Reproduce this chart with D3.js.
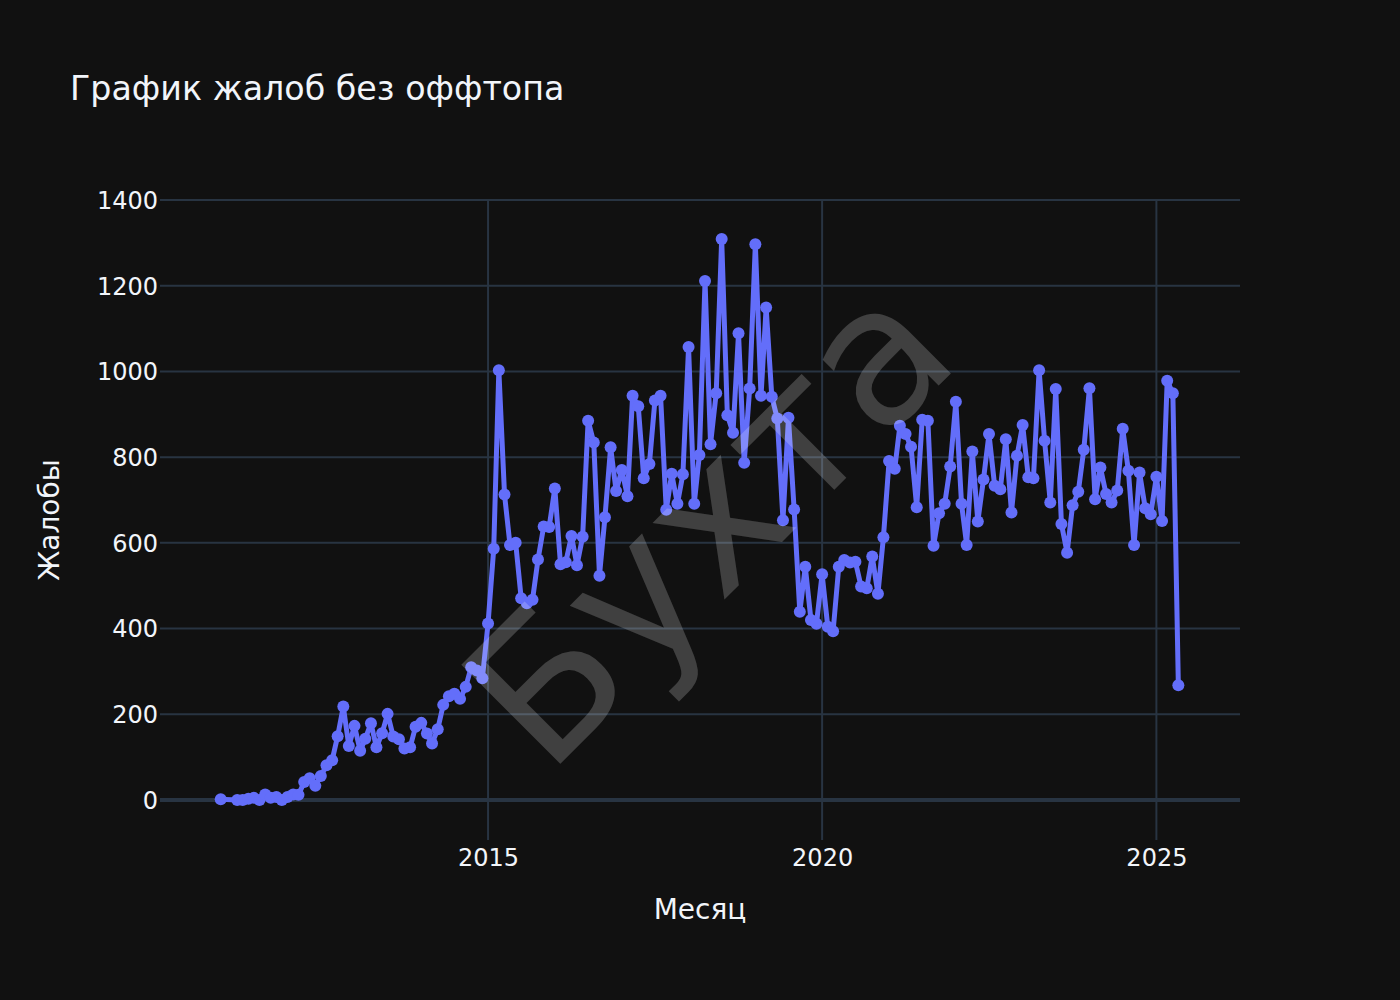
<!DOCTYPE html>
<html>
<head>
<meta charset="utf-8">
<script src="https://cdn.jsdelivr.net/npm/d3@7"></script>
<style>
  html, body { margin: 0; padding: 0; background: #111111; }
  svg { display: block; }
  text { font-family: "DejaVu Sans", Verdana, sans-serif; fill: #f2f5fa; }
</style>
</head>
<body>
<svg id="chart" width="1400" height="1000"></svg>
<script>
// ---- Data (monthly complaint counts, null = month absent from data) ----
const years = [2011, 2012, 2013, 2014, 2015, 2016, 2017, 2018, 2019, 2020, 2021, 2022, 2023, 2024, 2025];
const v2011 = [2, null, null, 0, 0, 3, 5, 0, 13, 5, 7, 0];
const v2012 = [7, 13, 12, 42, 51, 33, 56, 81, 93, 149, 218, 126];
const v2013 = [173, 115, 143, 179, 123, 156, 201, 148, 142, 120, 123, 171];
const v2014 = [180, 155, 132, 165, 222, 242, 248, 236, 264, 310, 302, 284];
const v2015 = [412, 586, 1003, 713, 595, 600, 471, 459, 467, 561, 638, 637];
const v2016 = [727, 550, 555, 616, 548, 614, 885, 834, 523, 660, 823, 721];
const v2017 = [770, 709, 943, 919, 751, 784, 932, 943, 677, 761, 691, 760];
const v2018 = [1057, 691, 805, 1211, 830, 949, 1309, 898, 857, 1089, 787, 960];
const v2019 = [1297, 943, 1149, 941, 890, 653, 892, 678, 439, 544, 420, 411];
const v2020 = [527, 404, 394, 544, 560, 554, 556, 498, 494, 568, 481, 613];
const v2021 = [791, 773, 873, 854, 824, 683, 887, 885, 593, 669, 691, 778];
const v2022 = [929, 691, 595, 813, 650, 748, 854, 733, 725, 842, 671, 803];
const v2023 = [875, 753, 751, 1003, 838, 694, 959, 644, 577, 688, 719, 817];
const v2024 = [961, 702, 776, 714, 694, 722, 866, 768, 595, 764, 681, 667];
const v2025 = [754, 651, 978, 949, 268];
const yearValues = [v2011, v2012, v2013, v2014, v2015, v2016, v2017, v2018, v2019, v2020, v2021, v2022, v2023, v2024, v2025];

const xTickYears = [2015, 2020, 2025];
const yTicks = [0, 200, 400, 600, 800, 1000, 1200, 1400];
const xRange = ["2010-02-03", "2026-04-03"];
const yRange = [-93.3, 1400];

const titleText = "График жалоб без оффтопа";
const xTitle = "Месяц";
const yTitle = "Жалобы";
const watermark = "Бухта";

// ---- Build rows ----
const data = [];
years.forEach((yr, k) => {
  yearValues[k].forEach((v, m) => {
    if (v !== null) data.push({ date: new Date(Date.UTC(yr, m, 1)), value: v });
  });
});

// ---- Layout ----
const W = 1400, H = 1000;
const margin = { l: 160, r: 160, t: 200, b: 160 };
const plotL = margin.l, plotR = W - margin.r, plotT = margin.t, plotB = H - margin.b;

const svg = d3.select("#chart");
svg.append("rect").attr("width", W).attr("height", H).attr("fill", "#111111");

const x = d3.scaleUtc()
  .domain(xRange.map(s => new Date(s + "T00:00:00Z")))
  .range([plotL, plotR]);
const y = d3.scaleLinear().domain(yRange).range([plotB, plotT]);

const gridColor = "#283442";

// vertical gridlines
const xTickDates = xTickYears.map(yr => new Date(Date.UTC(yr, 0, 1)));
svg.append("g").selectAll("line").data(xTickDates).join("line")
  .attr("x1", d => x(d)).attr("x2", d => x(d))
  .attr("y1", plotT).attr("y2", plotB)
  .attr("stroke", gridColor).attr("stroke-width", 2);

// horizontal gridlines
svg.append("g").selectAll("line").data(yTicks.filter(t => t !== 0)).join("line")
  .attr("x1", plotL).attr("x2", plotR)
  .attr("y1", d => y(d)).attr("y2", d => y(d))
  .attr("stroke", gridColor).attr("stroke-width", 2);

// zero line
svg.append("line")
  .attr("x1", plotL).attr("x2", plotR)
  .attr("y1", y(0)).attr("y2", y(0))
  .attr("stroke", gridColor).attr("stroke-width", 4);

// axes (labels only, via d3 axis)
const yAxis = d3.axisLeft(y).tickValues(yTicks).tickSize(0).tickPadding(0).tickFormat(d3.format("d"));
const gy = svg.append("g").attr("transform", `translate(${plotL - 2},0)`).call(yAxis);
gy.select(".domain").remove();
gy.selectAll("text").attr("font-size", 24).attr("fill", "#f2f5fa")
  .attr("font-family", '"DejaVu Sans", Verdana, sans-serif').attr("dy", "0.35em");

const xAxis = d3.axisBottom(x).tickValues(xTickDates).tickSize(0).tickPadding(0).tickFormat(d3.utcFormat("%Y"));
const gx = svg.append("g").attr("transform", `translate(0,${plotB})`).call(xAxis);
gx.select(".domain").remove();
gx.selectAll("text").attr("font-size", 24).attr("fill", "#f2f5fa")
  .attr("font-family", '"DejaVu Sans", Verdana, sans-serif').attr("y", 26).attr("dy", 0);

// line + markers
const clipId = "plotclip";
svg.append("clipPath").attr("id", clipId).append("rect")
  .attr("x", plotL - 10).attr("y", plotT - 10).attr("width", plotR - plotL + 20).attr("height", plotB - plotT + 20);

const lineColor = "#636efa";
const plotG = svg.append("g").attr("clip-path", `url(#${clipId})`);
plotG.append("path").datum(data)
  .attr("d", d3.line().x(d => x(d.date)).y(d => y(d.value)))
  .attr("fill", "none").attr("stroke", lineColor).attr("stroke-width", 5)
  .attr("stroke-linejoin", "round");
plotG.append("g").selectAll("circle").data(data).join("circle")
  .attr("cx", d => x(d.date)).attr("cy", d => y(d.value)).attr("r", 6)
  .attr("fill", lineColor);

// watermark
svg.append("text")
  .attr("transform", "translate(708,522) rotate(-45)")
  .attr("text-anchor", "middle").attr("dominant-baseline", "central")
  .attr("font-size", 192)
  .style("fill", "rgba(255,255,255,0.2)")
  .text(watermark);

// titles
svg.append("text").attr("x", 70).attr("y", 100).attr("font-size", 33.3).text(titleText);
svg.append("text").attr("x", (plotL + plotR) / 2).attr("y", 919)
  .attr("text-anchor", "middle").attr("font-size", 28).text(xTitle);
svg.append("text").attr("transform", `translate(59,${(plotT + plotB) / 2}) rotate(-90)`)
  .attr("text-anchor", "middle").attr("font-size", 28).text(yTitle);
</script>
</body>
</html>
